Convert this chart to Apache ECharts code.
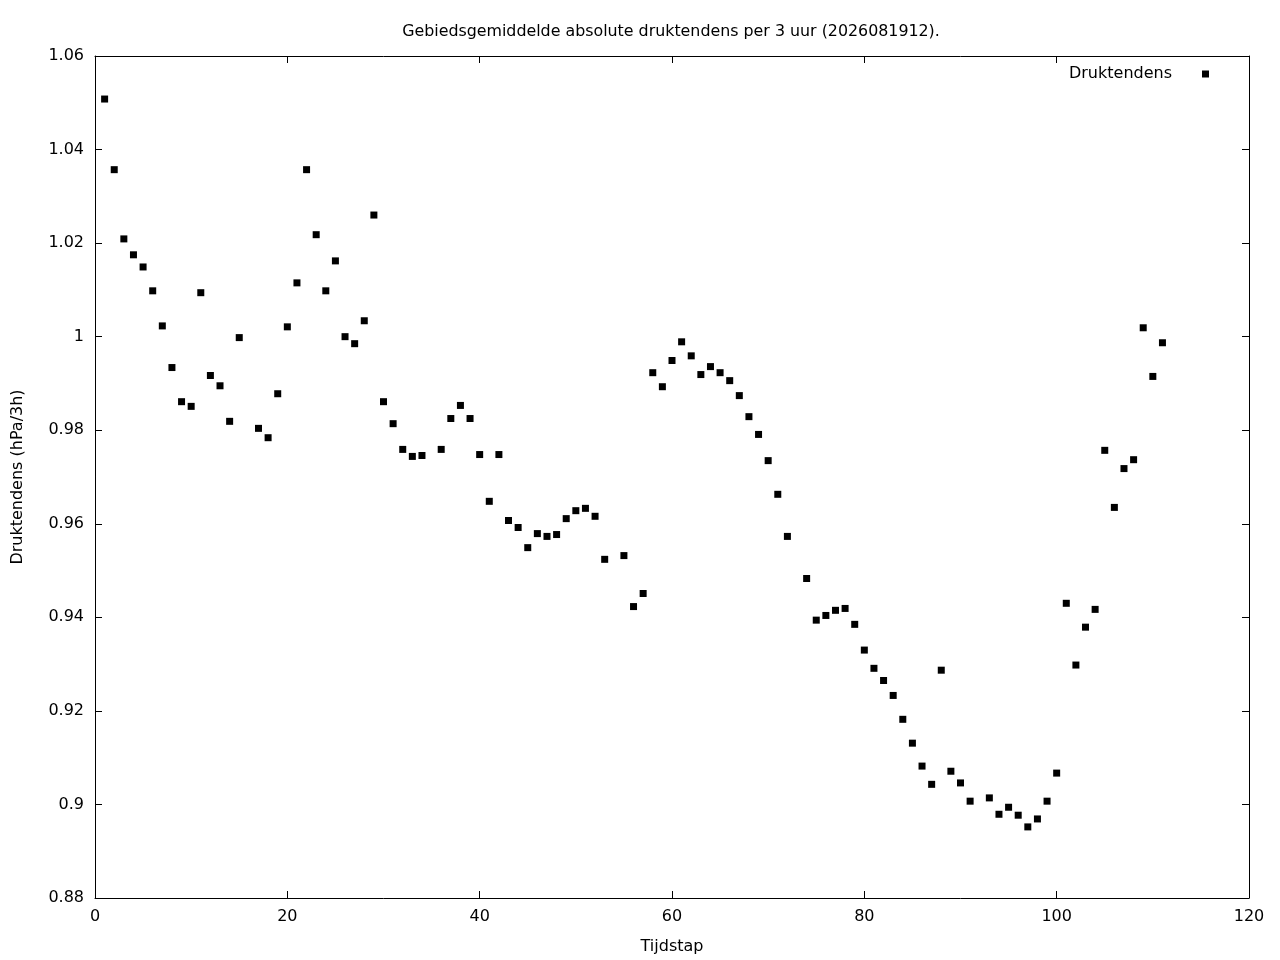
<!DOCTYPE html>
<html>
<head>
<meta charset="utf-8">
<script src="https://cdn.jsdelivr.net/npm/echarts@6/dist/echarts.min.js"></script>
<style>
html,body{margin:0;padding:0;background:#fff;}
#chart{width:1280px;height:960px;}
</style>
</head>
<body>
<div id="chart"></div>
<script>
var titleText = 'Gebiedsgemiddelde absolute druktendens per 3 uur (2026081912).';
var seriesName = 'Druktendens';
var xAxisName = 'Tijdstap';
var yAxisName = 'Druktendens (hPa/3h)';

var steps = [1,2,3,4,5,6,7,8,9,10,11,12,13,14,15,17,18,19,20,21,22,23,24,25,26,27,28,29,30,31,32,33,34,36,37,38,39,40,41,42,43,44,45,46,47,48,49,50,51,52,53,55,56,57,58,59,60,61,62,63,64,65,66,67,68,69,70,71,72,74,75,76,77,78,79,80,81,82,83,84,85,86,87,88,89,90,91,93,94,95,96,97,98,99,100,101,102,103,104,105,106,107,108,109,110,111];

var values = [1.0508,1.0357,1.0209,1.0175,1.0149,1.0098,1.0023,0.9934,0.9861,0.9851,1.0094,0.9917,0.9895,0.9819,0.9998,
0.9804,0.9784,0.9878,1.0021,1.0115,1.0357,1.0218,1.0098,1.0162,1.0000,0.9985,1.0034,1.0260,0.9861,0.9814,0.9759,0.9744,0.9746,
0.9759,0.9825,0.9853,0.9825,0.9748,0.9648,0.9748,0.9607,0.9592,0.9549,0.9579,0.9573,0.9577,0.9611,0.9628,0.9633,0.9616,0.9524,
0.9532,0.9423,0.9451,0.9923,0.9893,0.9949,0.9989,0.9959,0.9919,0.9936,0.9923,0.9906,0.9874,0.9829,0.9791,0.9735,0.9663,0.9573,
0.9483,0.9394,0.9404,0.9415,0.9419,0.9385,0.9330,0.9291,0.9265,0.9233,0.9182,0.9131,0.9082,0.9043,0.9287,0.9071,0.9046,0.9007,
0.9014,0.8979,0.8994,0.8977,0.8952,0.8969,0.9007,0.9067,0.9430,0.9298,0.9379,0.9417,0.9757,0.9635,0.9718,0.9737,1.0019,0.9915,0.9987];

var xMin = 0, xMax = 120, xStep = 20;
var yMin = 0.88, yMax = 1.06, yStep = 0.02;

var points = steps.map(function(s, i){ return [s, values[i]]; });

var font = 'DejaVu Sans';
var fs = 16;

var chart = echarts.init(document.getElementById('chart'));
chart.setOption({
  animation: false,
  backgroundColor: '#fff',
  textStyle: {fontFamily: font},
  title: {
    text: titleText,
    left: 666, top: 19,
    textAlign: 'center',
    textStyle: {fontFamily: font, fontSize: 15.85, fontWeight: 'normal', color: '#000'}
  },
  legend: {
    data: [seriesName],
    right: 66, top: 61,
    align: 'right',
    itemWidth: 7, itemHeight: 7,
    icon: 'rect',
    itemStyle: {opacity: 1},
    textStyle: {fontFamily: font, fontSize: fs, color: '#000', padding: [0, 25, 0, 0]}
  },
  grid: {left: 95, top: 56, width: 1154, height: 843, containLabel: false},
  xAxis: [{
    type: 'value', min: xMin, max: xMax, interval: xStep,
    name: xAxisName, nameLocation: 'middle', nameGap: 41,
    nameTextStyle: {fontFamily: font, fontSize: fs, color: '#000'},
    axisLine: {show: true, onZero: false, lineStyle: {color: '#000', width: 1}},
    axisTick: {show: true, inside: true, length: 7, lineStyle: {color: '#000'}},
    axisLabel: {fontFamily: font, fontSize: fs, color: '#000', margin: 11},
    splitLine: {show: false}
  },{
    type: 'value', min: xMin, max: xMax, interval: xStep, position: 'top',
    axisLine: {show: true, onZero: false, lineStyle: {color: '#000', width: 1}},
    axisTick: {show: true, inside: true, length: 7, lineStyle: {color: '#000'}},
    axisLabel: {show: false},
    splitLine: {show: false}
  }],
  yAxis: [{
    type: 'value', min: yMin, max: yMax, interval: yStep,
    name: yAxisName, nameLocation: 'middle', nameGap: 69,
    nameTextStyle: {fontFamily: font, fontSize: fs, color: '#000'},
    axisLine: {show: true, onZero: false, lineStyle: {color: '#000', width: 1}},
    axisTick: {show: true, inside: true, length: 7, lineStyle: {color: '#000'}},
    axisLabel: {fontFamily: font, fontSize: fs, color: '#000', margin: 11,
      formatter: function(v){ return String(parseFloat(v.toFixed(2))); }},
    splitLine: {show: false}
  },{
    type: 'value', min: yMin, max: yMax, interval: yStep, position: 'right',
    axisLine: {show: true, onZero: false, lineStyle: {color: '#000', width: 1}},
    axisTick: {show: true, inside: true, length: 7, lineStyle: {color: '#000'}},
    axisLabel: {show: false},
    splitLine: {show: false}
  }],
  series: [{
    name: seriesName,
    type: 'scatter',
    xAxisIndex: 0, yAxisIndex: 0,
    symbol: 'rect',
    symbolSize: 7,
    itemStyle: {color: '#000', opacity: 1},
    data: points
  }]
});
</script>
</body>
</html>
